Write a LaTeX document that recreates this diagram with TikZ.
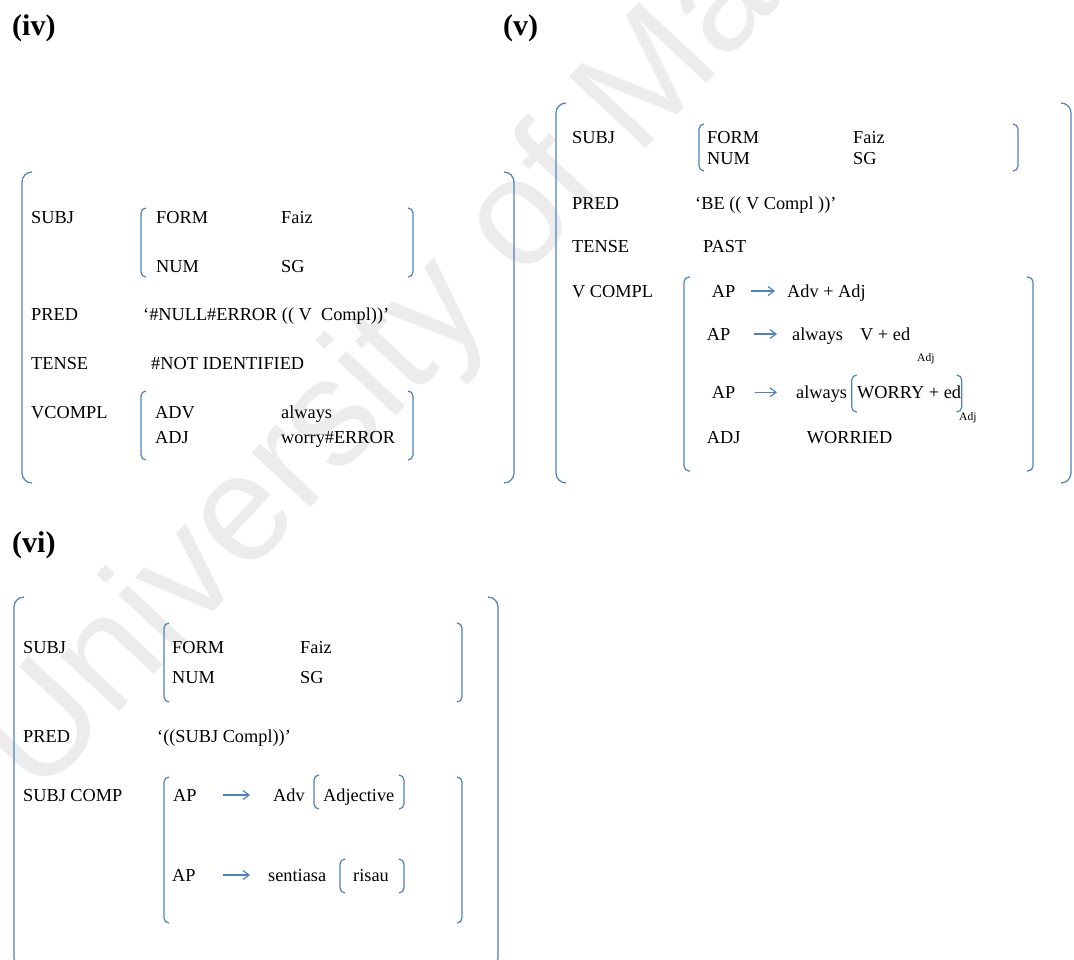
\documentclass[tikz,border=0pt]{standalone}
\usepackage{fontspec}
\setmainfont{Liberation Serif}
\newfontfamily\wmfont{Liberation Sans}
\usetikzlibrary{arrows.meta}
\definecolor{lfgblue}{RGB}{79,129,189}
\definecolor{lfgmark}{RGB}{236,236,236}

\begin{document}
\begin{tikzpicture}[
  x=1pt, y=-1pt,
  txt/.style={anchor=base west, inner sep=0pt, text height=12pt, text depth=0pt, font=\fontsize{18.3}{22}\selectfont},
  lbl/.style={anchor=base west, inner sep=0pt, font=\fontsize{30}{34}\selectfont\bfseries},
  sub/.style={anchor=base west, inner sep=0pt, font=\fontsize{11.5}{13}\selectfont},
  brk/.style={draw=lfgblue, line width=1.2pt, rounded corners=5pt},
  bigbrk/.style={draw=lfgblue, line width=1.2pt, rounded corners=10pt},
  arrow/.style={-{Straight Barb[length=6pt, width=9pt]}, draw=lfgblue, line width=1.2pt},
  wm/.style={anchor=base west, inner sep=0pt, text=lfgmark, rotate=47, font=\fontsize{152}{152}\selectfont\wmfont}
]
\path[use as bounding box, clip] (0,0) rectangle (1074,959);

% Watermark
\node[wm] (wmark) at (38,800) {University of Malaya};

% (iv)
\node[lbl] (ivlab) at (12,35) {(iv)};
\draw[bigbrk] (32,172) -- (22,172) -- (22,483) -- (32,483);
\draw[bigbrk] (504,172) -- (514,172) -- (514,483) -- (504,483);

\node[txt] (ivsubj) at (31,223) {SUBJ};
\node[txt] (ivform) at (156,223) {FORM};
\node[txt] (ivfaiz) at (281,223) {Faiz};
\node[txt] (ivnum) at (156,272) {NUM};
\node[txt] (ivsg) at (281,272) {SG};
\draw[brk] (146,208) -- (141,208) -- (141,277) -- (146,277);
\draw[brk] (408,208) -- (413,208) -- (413,277) -- (408,277);

\node[txt] (ivpred) at (31,320) {PRED};
\node[txt] (ivpredv) at (143,320) {‘\#NULL\#ERROR (( V\ \ Compl))’};
\node[txt] (ivtense) at (31,369) {TENSE};
\node[txt] (ivtensev) at (151,369) {\#NOT IDENTIFIED};

\node[txt] (ivvcompl) at (31,418) {VCOMPL};
\node[txt] (ivadv) at (155,418) {ADV};
\node[txt] (ivalways) at (281,418) {always};
\node[txt] (ivadj) at (155,443) {ADJ};
\node[txt] (ivworry) at (281,443) {worry\#ERROR};
\draw[brk] (146,391) -- (141,391) -- (141,460) -- (146,460);
\draw[brk] (408,391) -- (413,391) -- (413,460) -- (408,460);

% (v)
\node[lbl] (vlab) at (503,35) {(v)};
\draw[bigbrk] (566,103) -- (556,103) -- (556,483) -- (566,483);
\draw[bigbrk] (1061,103) -- (1071,103) -- (1071,483) -- (1061,483);

\node[txt] (vsubj) at (572,143) {SUBJ};
\node[txt] (vform) at (707,143) {FORM};
\node[txt] (vfaiz) at (853,143) {Faiz};
\node[txt] (vnum) at (707,164) {NUM};
\node[txt] (vsg) at (853,164) {SG};
\draw[brk] (704,124) -- (699,124) -- (699,171) -- (704,171);
\draw[brk] (1013,124) -- (1018,124) -- (1018,171) -- (1013,171);

\node[txt] (vpred) at (572,209) {PRED};
\node[txt] (vpredv) at (695,209) {‘BE (( V Compl ))’};
\node[txt] (vtense) at (572,252) {TENSE};
\node[txt] (vtensev) at (703,252) {PAST};

\node[txt] (vvcompl) at (572,297) {V COMPL};
\node[txt] (vap1) at (711.7,297) {AP};
\node[txt] (vadvadj) at (787,297) {Adv + Adj};
\node[txt] (vap2) at (706.7,340) {AP};
\node[txt] (valways1) at (792,340) {always};
\node[txt] (ved) at (860,340) {V + ed};
\node[sub] (vsub1) at (917,361.5) {Adj};
\node[txt] (vap3) at (711.7,398.3) {AP};
\node[txt] (valways2) at (796,398.3) {always};
\node[txt] (vworry) at (857,398.3) {WORRY + ed};
\node[sub] (vsub2) at (959,420.5) {Adj};
\node[txt] (vadj) at (706.7,443.3) {ADJ};
\node[txt] (vworried) at (806.7,443.3) {WORRIED};
\draw[brk] (856.7,375) -- (851.7,375) -- (851.7,412) -- (856.7,412);
\draw[brk] (956.7,375) -- (961.7,375) -- (961.7,412) -- (956.7,412);
\draw[brk] (690,277) -- (684,277) -- (684,471) -- (690,471);
\draw[brk] (1027,277) -- (1033,277) -- (1033,471) -- (1027,471);

\draw[arrow, shorten <=15pt, shorten >=12pt] (vap1.east) -- (vap1.east -| vadvadj.west);
\draw[arrow, shorten <=23pt, shorten >=15pt] (vap2.east) -- (vap2.east -| valways1.west);
\draw[arrow, shorten <=19pt, shorten >=19pt] (vap3.east) -- (vap3.east -| valways2.west);

% (vi)
\node[lbl] (vilab) at (12,552) {(vi)};
\draw[bigbrk] (24,597) -- (14,597) -- (14,968) -- (24,968);
\draw[bigbrk] (488,597) -- (498,597) -- (498,968) -- (488,968);

\node[txt] (visubj) at (23,653) {SUBJ};
\node[txt] (viform) at (172,653) {FORM};
\node[txt] (vifaiz) at (300,653) {Faiz};
\node[txt] (vinum) at (172,683) {NUM};
\node[txt] (visg) at (300,683) {SG};
\draw[brk] (169,623) -- (164,623) -- (164,702) -- (169,702);
\draw[brk] (457,623) -- (462,623) -- (462,702) -- (457,702);

\node[txt] (vipred) at (23,742) {PRED};
\node[txt] (vipredv) at (157,742) {‘((SUBJ Compl))’};

\node[txt] (visubjcomp) at (23,801) {SUBJ COMP};
\node[txt] (viap1) at (173,801) {AP};
\node[txt] (viadv) at (273,801) {Adv};
\node[txt] (viadjective) at (323,801) {Adjective};
\node[txt] (viap2) at (172,881) {AP};
\node[txt] (visentiasa) at (268,881) {sentiasa};
\node[txt] (virisau) at (353,881) {risau};
\draw[brk] (319,775) -- (314,775) -- (314,809) -- (319,809);
\draw[brk] (399,775) -- (404,775) -- (404,809) -- (399,809);
\draw[brk] (345,859) -- (340,859) -- (340,893) -- (345,893);
\draw[brk] (399,859) -- (404,859) -- (404,893) -- (399,893);
\draw[brk] (169,777) -- (164,777) -- (164,923) -- (169,923);
\draw[brk] (457,777) -- (462,777) -- (462,923) -- (457,923);

\draw[arrow, shorten <=26.6pt, shorten >=23pt] (viap1.east) -- (viap1.east -| viadv.west);
\draw[arrow, shorten <=27.6pt, shorten >=18pt] (viap2.east) -- (viap2.east -| visentiasa.west);

\end{tikzpicture}
\end{document}
